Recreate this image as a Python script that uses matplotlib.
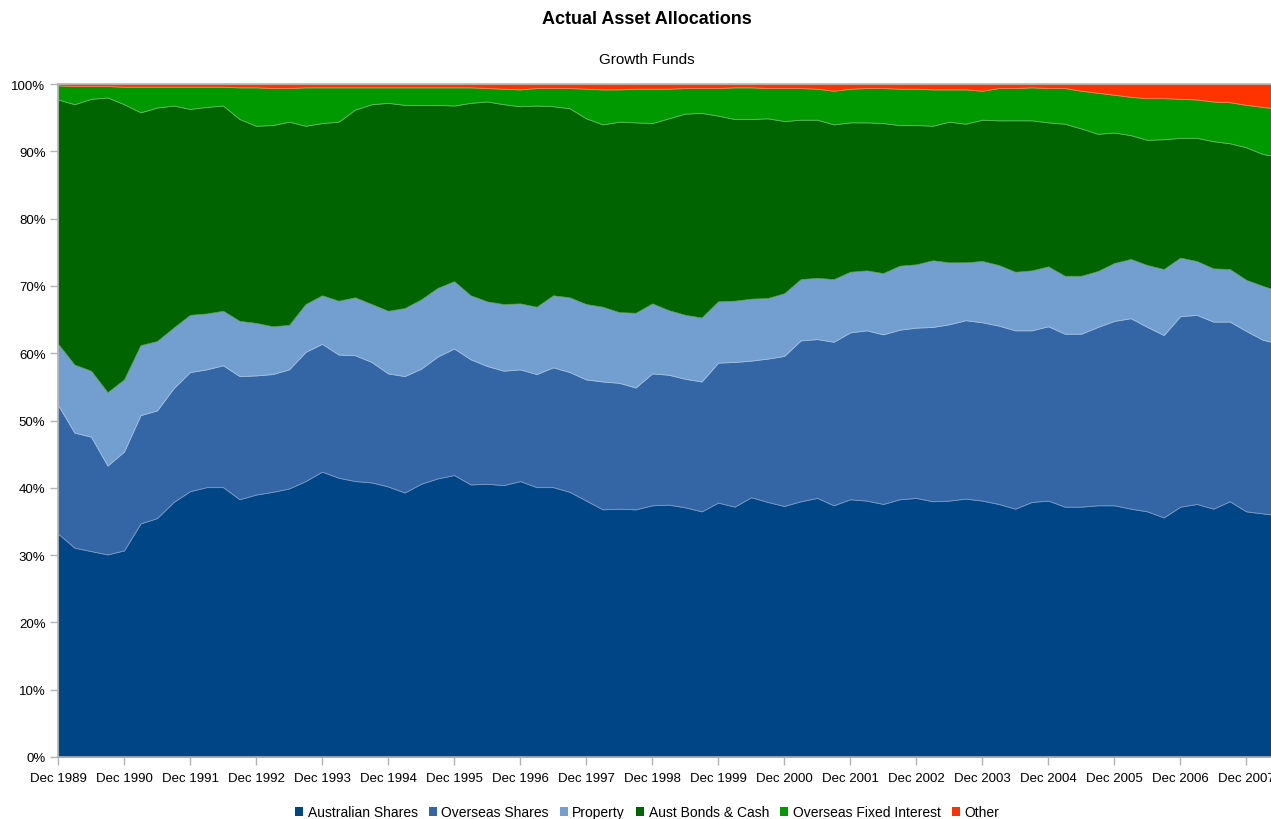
import numpy as np
import matplotlib
matplotlib.use('Agg')
import matplotlib.pyplot as plt
from matplotlib.colors import to_rgb

plt.rcParams['font.family'] = ['Liberation Sans', 'DejaVu Sans']

# 季度数据：Dec 1989 起，每季度一个点（百分比）
series_names = ['Australian Shares', 'Overseas Shares', 'Property',
                'Aust Bonds & Cash', 'Overseas Fixed Interest', 'Other']

aus_shares = [33.2, 31.1, 30.6, 30.1, 30.7, 34.7, 35.5, 37.9, 39.5, 40.1,
              40.1, 38.3, 39.0, 39.4, 39.9, 41.0, 42.4, 41.5, 41.0, 40.8,
              40.2, 39.3, 40.6, 41.4, 41.9, 40.5, 40.6, 40.4, 41.0, 40.1,
              40.1, 39.4, 38.1, 36.8, 36.9, 36.8, 37.4, 37.5, 37.1, 36.5,
              37.8, 37.2, 38.6, 37.9, 37.3, 38.0, 38.5, 37.4, 38.3, 38.1,
              37.6, 38.3, 38.5, 38.0, 38.1, 38.4, 38.1, 37.6, 36.9, 37.9,
              38.1, 37.2, 37.2, 37.4, 37.4, 36.9, 36.5, 35.6, 37.2, 37.6,
              36.9, 38.0, 36.5, 36.2, 35.9]
overseas_shares = [19.1, 17.1, 17.0, 13.2, 14.7, 16.1, 16.0, 16.9, 17.7, 17.5,
                   18.1, 18.3, 17.7, 17.5, 17.7, 19.2, 19.0, 18.3, 18.7, 17.9,
                   16.8, 17.3, 17.1, 18.1, 18.8, 18.6, 17.5, 17.0, 16.6, 16.8,
                   17.8, 17.8, 18.0, 19.0, 18.7, 18.1, 19.6, 19.3, 19.1, 19.3,
                   20.8, 21.5, 20.3, 21.3, 22.3, 23.9, 23.6, 24.3, 24.8, 25.3,
                   25.2, 25.2, 25.3, 25.9, 26.2, 26.5, 26.5, 26.5, 26.5, 25.5,
                   25.9, 25.7, 25.7, 26.5, 27.4, 28.3, 27.4, 27.1, 28.3, 28.1,
                   27.8, 26.7, 26.8, 25.8, 25.5]
property_ = [9.1, 10.1, 9.8, 10.9, 10.7, 10.4, 10.3, 9.0, 8.5, 8.3,
             8.1, 8.2, 7.8, 7.1, 6.6, 7.1, 7.2, 8.0, 8.6, 8.6,
             9.3, 10.1, 10.3, 10.2, 10.0, 9.5, 9.6, 9.9, 9.8, 10.0,
             10.7, 11.1, 11.2, 11.1, 10.5, 11.1, 10.4, 9.6, 9.5, 9.5,
             9.1, 9.1, 9.2, 9.0, 9.3, 9.1, 9.1, 9.3, 9.0, 8.9,
             9.1, 9.5, 9.4, 9.9, 9.2, 8.6, 9.1, 9.0, 8.7, 8.9,
             8.9, 8.6, 8.6, 8.3, 8.6, 8.8, 9.2, 9.8, 8.7, 8.0,
             7.9, 7.8, 7.6, 8.0, 7.8]
bonds_cash = [36.3, 38.7, 40.4, 43.8, 40.9, 34.6, 34.7, 33.0, 30.6, 30.7,
              30.5, 30.0, 29.3, 29.9, 30.2, 26.5, 25.6, 26.6, 27.9, 29.7,
              30.9, 30.2, 28.9, 27.2, 26.1, 28.6, 29.7, 29.7, 29.3, 29.9,
              28.1, 28.1, 27.6, 27.1, 28.3, 28.3, 26.8, 28.5, 29.9, 30.4,
              27.6, 27.0, 26.7, 26.7, 25.6, 23.7, 23.5, 23.0, 22.2, 22.0,
              22.3, 20.9, 20.7, 20.0, 20.9, 20.6, 21.0, 21.5, 22.5, 22.3,
              21.4, 22.6, 21.9, 20.4, 19.4, 18.4, 18.6, 19.3, 17.8, 18.3,
              18.9, 18.7, 19.7, 19.6, 20.0]
overseas_fi = [2.1, 2.7, 1.9, 1.7, 2.6, 3.8, 3.1, 2.8, 3.3, 3.0,
               2.8, 4.7, 5.7, 5.5, 5.0, 5.7, 5.3, 5.1, 3.3, 2.5,
               2.3, 2.6, 2.6, 2.6, 2.7, 2.3, 2.0, 2.3, 2.5, 2.6,
               2.7, 3.0, 4.4, 5.2, 4.8, 5.0, 5.1, 4.4, 3.8, 3.7,
               4.1, 4.7, 4.7, 4.5, 4.9, 4.7, 4.6, 5.0, 5.0, 5.1,
               5.2, 5.4, 5.4, 5.4, 4.8, 5.1, 4.3, 4.8, 4.8, 4.9,
               5.1, 5.3, 5.6, 6.1, 5.6, 5.7, 6.2, 6.1, 5.8, 5.7,
               5.9, 6.1, 6.3, 7.0, 7.1]
other = [0.2, 0.3, 0.3, 0.3, 0.4, 0.4, 0.4, 0.4, 0.4, 0.4,
         0.4, 0.5, 0.5, 0.6, 0.6, 0.5, 0.5, 0.5, 0.5, 0.5,
         0.5, 0.5, 0.5, 0.5, 0.5, 0.5, 0.6, 0.7, 0.8, 0.6,
         0.6, 0.6, 0.7, 0.8, 0.8, 0.7, 0.7, 0.7, 0.6, 0.6,
         0.6, 0.5, 0.5, 0.6, 0.6, 0.6, 0.7, 1.0, 0.7, 0.6,
         0.6, 0.7, 0.7, 0.8, 0.8, 0.8, 1.0, 0.6, 0.6, 0.5,
         0.6, 0.6, 1.0, 1.3, 1.6, 1.9, 2.1, 2.1, 2.2, 2.3,
         2.6, 2.7, 3.1, 3.4, 3.7]

tick_labels = ['Dec %d' % y for y in range(1989, 2008)]
colors = ['#004586', '#3465a4', '#729fcf', '#006400', '#009900', '#ff3300']

# 百分比堆叠：每个季度归一化到 100%
values = np.array([aus_shares, overseas_shares, property_, bonds_cash,
                   overseas_fi, other], dtype=float)
values = values / values.sum(axis=0) * 100
x = np.arange(values.shape[1])

fig = plt.figure(figsize=(12.71, 8.20), dpi=100)
ax = fig.add_axes([58 / 1271, 1 - 758 / 820, 1 - 58 / 1271, (758 - 85) / 820])

polys = ax.stackplot(x, values, colors=colors, labels=series_names)
for p, c in zip(polys, colors):
    r, g, b = to_rgb(c)
    p.set_edgecolor((r + (1 - r) * 0.35, g + (1 - g) * 0.35, b + (1 - b) * 0.35))
    p.set_linewidth(0.6)

ax.set_xlim(0, 73.5)
ax.set_ylim(0, 100)
ax.set_yticks(np.arange(0, 101, 10))
ax.set_yticklabels(['%d%%' % v for v in range(0, 101, 10)])
ax.set_xticks(np.arange(0, 73, 4))
ax.set_xticklabels(tick_labels)

for s in ['left', 'bottom', 'top']:
    ax.spines[s].set_color('#b3b3b3')
    ax.spines[s].set_linewidth(1.2)
ax.spines['right'].set_visible(False)
ax.tick_params(axis='both', colors='#b3b3b3', labelcolor='black',
               labelsize=9.5, length=6, width=1, direction='out')
ax.tick_params(axis='x', pad=5)
ax.tick_params(axis='y', pad=3)

fig.text(647 / 1271, 1 - 20 / 820, 'Actual Asset Allocations', ha='center',
         va='center', fontsize=13, fontweight='bold')
fig.text(647 / 1271, 1 - 60 / 820, 'Growth Funds', ha='center', va='center',
         fontsize=11)

leg = fig.legend(loc='center', bbox_to_anchor=(647 / 1271, 1 - 813 / 820),
                 ncol=6, frameon=False, fontsize=10, handlelength=0.6,
                 handleheight=0.6, handletextpad=0.3, columnspacing=0.8,
                 borderaxespad=0, borderpad=0)
for h in leg.legend_handles:
    h.set_linewidth(0)

fig.savefig('out.png', dpi=100)
